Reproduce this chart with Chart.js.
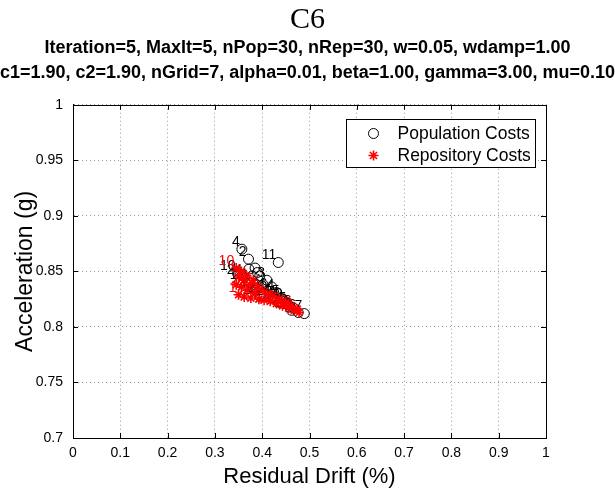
<!DOCTYPE html>
<html>
<head>
<meta charset="utf-8">
<script src="https://cdn.jsdelivr.net/npm/chart.js@4.4.1/dist/chart.umd.min.js"></script>
<style>
  html, body { margin: 0; padding: 0; background: #fff; }
</style>
</head>
<body>
<canvas id="myChart" width="615" height="492"></canvas>
<script>
// population (black circles), labelled with particle index
var popX = [0.352, 0.371, 0.410, 0.357, 0.455, 0.466, 0.385, 0.372, 0.395, 0.348,
            0.434, 0.402, 0.420, 0.430, 0.441, 0.476, 0.489, 0.462, 0.448, 0.425,
            0.405, 0.386, 0.374, 0.362, 0.390, 0.415, 0.437, 0.458, 0.396, 0.379];
var popY = [0.840, 0.861, 0.842, 0.870, 0.820, 0.817, 0.853, 0.852, 0.846, 0.848,
            0.858, 0.838, 0.836, 0.831, 0.826, 0.813, 0.812, 0.815, 0.823, 0.826,
            0.829, 0.833, 0.840, 0.845, 0.849, 0.832, 0.822, 0.818, 0.827, 0.846];
var popLabels = ['1','2','3','4','5','6','','','','10','11','','','14','15',
                 '16','17','18','19','20','21','22','23','24','','26','27','28','29',''];

// repository (red stars)
var repX = [0.345, 0.345, 0.350, 0.350, 0.356, 0.356, 0.361, 0.362, 0.367, 0.368,
            0.374, 0.376, 0.381, 0.384, 0.390, 0.393, 0.400, 0.404, 0.410, 0.417,
            0.422, 0.430, 0.436, 0.443, 0.450, 0.456, 0.462, 0.468, 0.474, 0.478];
var repY = [0.853, 0.838, 0.845, 0.829, 0.850, 0.836, 0.842, 0.827, 0.846, 0.833,
            0.838, 0.826, 0.842, 0.831, 0.836, 0.825, 0.833, 0.824, 0.830, 0.823,
            0.828, 0.821, 0.825, 0.819, 0.822, 0.817, 0.819, 0.815, 0.816, 0.813];
var repLabels = ['10','','','1','','','','','','','','','','','','','','','','',
                 '','4','','5','','6','','2','',''];

var xTicks = [0, 0.1, 0.2, 0.3, 0.4, 0.5, 0.6, 0.7, 0.8, 0.9, 1];
var yTicks = [0.7, 0.75, 0.8, 0.85, 0.9, 0.95, 1];

var subtitleLines = [
  'Iteration=5, MaxIt=5, nPop=30, nRep=30, w=0.05, wdamp=1.00',
  'c1=1.90, c2=1.90, nGrid=7, alpha=0.01, beta=1.00, gamma=3.00, mu=0.10'
];

Chart.defaults.font.family = '"Liberation Sans", Arial, sans-serif';
Chart.defaults.color = '#000';

function toPoints(xs, ys) {
  return xs.map(function (x, i) { return { x: x, y: ys[i] }; });
}

// point labels, drawn right after their own dataset
var pointText = {
  id: 'pointText',
  afterDatasetDraw: function (chart, args) {
    var ds = chart.data.datasets[args.index];
    var labels = ds.pointText || [];
    var ctx = chart.ctx;
    ctx.save();
    ctx.font = '14px "Liberation Sans", Arial, sans-serif';
    ctx.fillStyle = ds.borderColor;
    ctx.textAlign = 'right';
    ctx.textBaseline = 'middle';
    args.meta.data.forEach(function (pt, i) {
      if (labels[i]) ctx.fillText(labels[i], pt.x - 2, pt.y - 7);
    });
    ctx.restore();
  }
};

// box round the axes, inward ticks, legend inside
var matlabBox = {
  id: 'matlabBox',
  afterDraw: function (chart) {
    var ctx = chart.ctx, a = chart.chartArea;
    var xs = chart.scales.x, ys = chart.scales.y;
    ctx.save();
    ctx.strokeStyle = '#000';
    ctx.lineWidth = 1;
    ctx.strokeRect(Math.round(a.left) + 0.5, Math.round(a.top) + 0.5,
                   Math.round(a.right - a.left), Math.round(a.bottom - a.top));
    ctx.beginPath();
    xTicks.forEach(function (v) {
      var px = Math.round(xs.getPixelForValue(v)) + 0.5;
      ctx.moveTo(px, a.bottom); ctx.lineTo(px, a.bottom - 5);
      ctx.moveTo(px, a.top); ctx.lineTo(px, a.top + 5);
    });
    yTicks.forEach(function (v) {
      var py = Math.round(ys.getPixelForValue(v)) + 0.5;
      ctx.moveTo(a.left, py); ctx.lineTo(a.left + 5, py);
      ctx.moveTo(a.right, py); ctx.lineTo(a.right - 5, py);
    });
    ctx.stroke();

    // legend
    var bw = 189, bh = 48;
    var bx = Math.round(a.right - 11 - bw) + 0.5, by = Math.round(a.top + 14) + 0.5;
    ctx.fillStyle = '#fff';
    ctx.fillRect(bx, by, bw, bh);
    ctx.strokeRect(bx, by, bw, bh);
    ctx.font = '17.5px "Liberation Sans", Arial, sans-serif';
    ctx.textAlign = 'left';
    ctx.textBaseline = 'middle';
    chart.data.datasets.slice().reverse().forEach(function (ds, i) {
      var cy = by + 14 + i * 22;
      ctx.strokeStyle = ds.borderColor;
      ctx.fillStyle = ds.backgroundColor;
      ctx.lineWidth = ds.borderWidth;
      Chart.helpers.drawPoint(ctx, {
        pointStyle: ds.pointStyle, radius: ds.pointRadius, borderWidth: ds.borderWidth
      }, bx + 27, cy);
      ctx.fillStyle = '#000';
      ctx.fillText(ds.label, bx + 51, cy + 1);
    });
    ctx.restore();
  }
};

new Chart('myChart', {
  type: 'scatter',
  data: {
    datasets: [{
      label: 'Repository Costs',
      data: toPoints(repX, repY),
      pointStyle: 'star',
      pointRadius: 5,
      borderWidth: 1.6,
      borderColor: '#ff0000',
      backgroundColor: '#ff0000',
      pointText: repLabels,
      order: 0
    }, {
      label: 'Population Costs',
      data: toPoints(popX, popY),
      pointStyle: 'circle',
      pointRadius: 5,
      borderWidth: 1,
      borderColor: '#000000',
      backgroundColor: 'rgba(0,0,0,0)',
      pointText: popLabels,
      order: 1
    }]
  },
  plugins: [pointText, matlabBox],
  options: {
    responsive: false,
    animation: false,
    layout: { padding: 0 },
    plugins: {
      legend: { display: false },
      tooltip: { enabled: false },
      title: {
        display: true,
        text: 'C6',
        color: '#000',
        font: { family: '"Liberation Serif", "Times New Roman", serif', size: 30, weight: 'normal', lineHeight: 1.0 },
        padding: { top: 5, bottom: 0 }
      },
      subtitle: {
        display: true,
        text: subtitleLines,
        color: '#000',
        font: { size: 18, weight: 'bold', lineHeight: 1.41 },
        padding: { top: 0, bottom: 19 }
      }
    },
    scales: {
      x: {
        type: 'linear',
        min: 0, max: 1,
        afterBuildTicks: function (s) { s.ticks = xTicks.map(function (v) { return { value: v }; }); },
        ticks: { font: { size: 14 }, padding: 7, maxRotation: 0,
                 callback: function (v) { return String(+v.toFixed(2)); } },
        grid: { color: '#999999', drawTicks: false },
        border: { color: '#000', dash: [1, 3] },
        title: { display: true, text: 'Residual Drift (%)', font: { size: 22 }, padding: { top: 0, bottom: 2 } },
        afterFit: function (s) { s.height = 54; }
      },
      y: {
        min: 0.7, max: 1,
        afterBuildTicks: function (s) { s.ticks = yTicks.map(function (v) { return { value: v }; }); },
        ticks: { font: { size: 14 }, padding: 10,
                 callback: function (v) { return String(+v.toFixed(2)); } },
        grid: { color: '#999999', drawTicks: false },
        border: { color: '#000', dash: [1, 3] },
        title: { display: true, text: 'Acceleration (g)', font: { size: 23 }, padding: { top: 12, bottom: 0 } },
        afterFit: function (s) { s.width = 73; }
      },
      yRight: {
        position: 'right',
        min: 0.7, max: 1,
        ticks: { display: false },
        grid: { display: false },
        border: { display: false },
        afterFit: function (s) { s.width = 69; }
      }
    }
  }
});
</script>
</body>
</html>
